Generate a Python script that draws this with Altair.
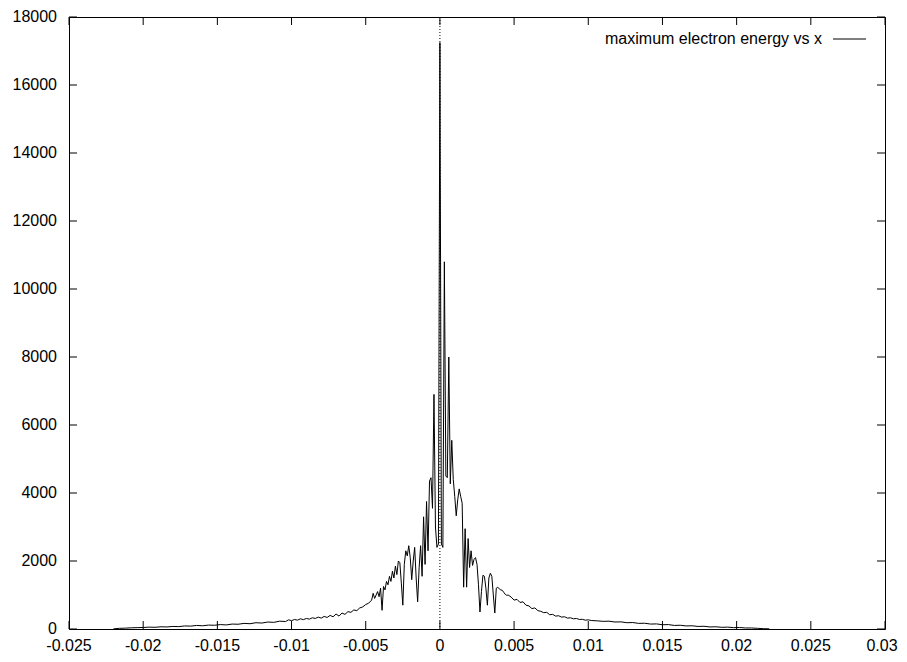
import altair as alt
import pandas as pd

# ---------------- data ----------------
X_LEFT_FAR = [-0.0220, -0.0216, -0.0212, -0.0208, -0.0204, -0.0200, -0.0196, -0.0192, -0.0188, -0.0184,
              -0.0180, -0.0176, -0.0172, -0.0168, -0.0164, -0.0160, -0.0156, -0.0152, -0.0148, -0.0144,
              -0.0140, -0.0136, -0.0132, -0.0128, -0.0124, -0.0120, -0.0116, -0.0112, -0.0108, -0.0104]
Y_LEFT_FAR = [5, 20, 25, 35, 40, 45, 55, 50, 65, 60,
              75, 70, 90, 85, 105, 95, 115, 110, 130, 120,
              145, 140, 165, 155, 185, 175, 205, 195, 230, 220]

X_LEFT_NEAR = [-0.0102, -0.0100, -0.0098, -0.0096, -0.0094, -0.0092, -0.0090, -0.0088, -0.0086, -0.0084,
               -0.0082, -0.0080, -0.0078, -0.0076, -0.0074, -0.0072, -0.0070, -0.0068, -0.0066, -0.0064,
               -0.0062, -0.0060, -0.0058, -0.0056, -0.0054, -0.0052, -0.0050, -0.0048, -0.0046]
Y_LEFT_NEAR = [270, 245, 280, 260, 300, 275, 310, 290, 330, 310,
               350, 320, 370, 340, 400, 360, 440, 380, 470, 430,
               510, 490, 560, 540, 620, 650, 720, 760, 850]

X_CENTER_LEFT = [-0.0045, -0.0044, -0.0043, -0.0042, -0.0041, -0.0040, -0.0039, -0.0038, -0.0037, -0.0036,
                 -0.0035, -0.0034, -0.0033, -0.0032, -0.0031, -0.0030, -0.0029, -0.0028, -0.0027, -0.0026,
                 -0.0025, -0.0024, -0.0023, -0.0022, -0.0021, -0.0020, -0.0019, -0.0018, -0.0017, -0.0016,
                 -0.0015, -0.0014, -0.0013, -0.0012, -0.0011, -0.0010, -0.0009, -0.0008, -0.0007, -0.0006,
                 -0.0005, -0.0004, -0.0003, -0.0002, -0.0001]
Y_CENTER_LEFT = [1050, 900, 1000, 1100, 950, 1200, 550, 1250, 1150, 1400,
                 1300, 1550, 1400, 1700, 1500, 1850, 1600, 2000, 1950, 1350,
                 700, 1900, 2300, 2150, 2450, 2100, 1450, 2000, 2400, 1500,
                 800, 1800, 2450, 1550, 3300, 1900, 3750, 2300, 4350, 4450,
                 3550, 6900, 3000, 2400, 2500]

X_CENTER_RIGHT = [0.0000, 0.0001, 0.0002, 0.0003, 0.0004, 0.0005, 0.0006, 0.0007, 0.0008, 0.0009,
                  0.0010, 0.0011, 0.0012, 0.0013, 0.0014, 0.0015, 0.0016, 0.0017, 0.0018, 0.0019,
                  0.0020, 0.0021, 0.0022, 0.0023, 0.0024, 0.0025, 0.0026, 0.0027, 0.0028, 0.0029,
                  0.0030, 0.0031, 0.0032, 0.0033, 0.0034, 0.0035, 0.0036, 0.0037, 0.0038, 0.0039,
                  0.0040, 0.0041, 0.0042, 0.0043, 0.0044, 0.0045]
Y_CENTER_RIGHT = [17250, 2500, 2400, 10800, 4500, 4450, 8000, 4270, 5550, 4400,
                  3900, 3330, 3800, 4120, 3900, 3700, 1230, 2950, 1230, 2660,
                  1810, 2300, 1870, 2050, 2100, 1900, 1300, 500, 1100, 1580,
                  1550, 1200, 700, 1500, 1640, 1550, 1000, 470, 1200, 1230,
                  1180, 1150, 1140, 1080, 1020, 990]

X_RIGHT_NEAR = [0.0046, 0.0048, 0.0050, 0.0052, 0.0054, 0.0056, 0.0058, 0.0060, 0.0062, 0.0064,
                0.0066, 0.0068, 0.0070, 0.0072, 0.0074, 0.0076, 0.0078, 0.0080, 0.0082, 0.0084,
                0.0086, 0.0088, 0.0090, 0.0092, 0.0094, 0.0096, 0.0098, 0.0100, 0.0102]
Y_RIGHT_NEAR = [1000, 940, 850, 870, 780, 800, 700, 680, 600, 620,
                540, 520, 480, 490, 420, 430, 380, 390, 350, 360,
                320, 330, 300, 310, 280, 285, 260, 270, 250]

X_RIGHT_FAR = [0.0106, 0.0110, 0.0114, 0.0118, 0.0122, 0.0126, 0.0130, 0.0134, 0.0138, 0.0142,
               0.0146, 0.0150, 0.0154, 0.0158, 0.0162, 0.0166, 0.0170, 0.0174, 0.0178, 0.0182,
               0.0186, 0.0190, 0.0194, 0.0198, 0.0202, 0.0206, 0.0210, 0.0214, 0.0218, 0.0222]
Y_RIGHT_FAR = [240, 225, 230, 205, 210, 185, 190, 165, 170, 145,
               150, 125, 130, 105, 110, 90, 95, 75, 80, 60,
               65, 50, 55, 40, 45, 30, 30, 20, 10, 5]

X_TICKS = [-0.025, -0.02, -0.015, -0.01, -0.005, 0, 0.005, 0.01, 0.015, 0.02, 0.025, 0.03]
X_TICK_LABELS = ["-0.025", "-0.02", "-0.015", "-0.01", "-0.005", "0",
                 "0.005", "0.01", "0.015", "0.02", "0.025", "0.03"]
Y_TICKS = [0, 2000, 4000, 6000, 8000, 10000, 12000, 14000, 16000, 18000]
Y_TICK_LABELS = ["0", "2000", "4000", "6000", "8000", "10000", "12000", "14000", "16000", "18000"]
LEGEND_LABEL = "maximum electron energy vs x"

# ---------------- chart ----------------
xs = X_LEFT_FAR + X_LEFT_NEAR + X_CENTER_LEFT + X_CENTER_RIGHT + X_RIGHT_NEAR + X_RIGHT_FAR
ys = Y_LEFT_FAR + Y_LEFT_NEAR + Y_CENTER_LEFT + Y_CENTER_RIGHT + Y_RIGHT_NEAR + Y_RIGHT_FAR
df = pd.DataFrame({"x": xs, "y": ys, "order": list(range(len(xs)))})

W, H = 816, 612
TICK = 8
FONT = "Liberation Sans, Arial, Helvetica, sans-serif"

xscale = alt.Scale(domain=[-0.025, 0.03], nice=False, zero=False)
yscale = alt.Scale(domain=[0, 18000], nice=False, zero=False)

line = alt.Chart(df).mark_line(color="black", strokeWidth=1).encode(
    x=alt.X("x:Q", scale=xscale, axis=None),
    y=alt.Y("y:Q", scale=yscale, axis=None),
    order="order:Q",
)

zero_line = alt.Chart(pd.DataFrame({"x": [0]})).mark_rule(
    color="black", strokeWidth=1, strokeDash=[1, 2]
).encode(x=alt.X("x:Q", scale=xscale, axis=None))

xt = pd.DataFrame({"x": X_TICKS, "label": X_TICK_LABELS})
yt = pd.DataFrame({"y": Y_TICKS, "label": Y_TICK_LABELS})

ticks_bottom = alt.Chart(xt).mark_rule(color="black", strokeWidth=1).encode(
    x=alt.X("x:Q", scale=xscale, axis=None), y=alt.value(H), y2=alt.value(H - TICK))
ticks_top = alt.Chart(xt).mark_rule(color="black", strokeWidth=1).encode(
    x=alt.X("x:Q", scale=xscale, axis=None), y=alt.value(0), y2=alt.value(TICK))
ticks_left = alt.Chart(yt).mark_rule(color="black", strokeWidth=1).encode(
    y=alt.Y("y:Q", scale=yscale, axis=None), x=alt.value(0), x2=alt.value(TICK))
ticks_right = alt.Chart(yt).mark_rule(color="black", strokeWidth=1).encode(
    y=alt.Y("y:Q", scale=yscale, axis=None), x=alt.value(W), x2=alt.value(W - TICK))

last_x = X_TICKS[-1]
x_labels = alt.Chart(xt).transform_filter(alt.datum.x < last_x).mark_text(
    align="center", baseline="middle", font=FONT, fontSize=16, color="black"
).encode(x=alt.X("x:Q", scale=xscale, axis=None), y=alt.value(H + 17), text="label:N")
x_label_last = alt.Chart(xt).transform_filter(alt.datum.x >= last_x).mark_text(
    align="center", baseline="middle", font=FONT, fontSize=16, color="black", dx=-3
).encode(x=alt.X("x:Q", scale=xscale, axis=None), y=alt.value(H + 17), text="label:N")
y_labels = alt.Chart(yt).mark_text(
    align="right", baseline="middle", font=FONT, fontSize=16, color="black"
).encode(y=alt.Y("y:Q", scale=yscale, axis=None), x=alt.value(-12), text="label:N")

legend_df = pd.DataFrame({"t": [LEGEND_LABEL]})
legend_text = alt.Chart(legend_df).mark_text(
    align="right", baseline="middle", font=FONT, fontSize=16, color="black"
).encode(x=alt.value(753), y=alt.value(22), text="t:N")
legend_line = alt.Chart(legend_df).mark_rule(color="black", strokeWidth=1).encode(
    x=alt.value(764), x2=alt.value(797), y=alt.value(22))

chart = alt.layer(
    line, zero_line, ticks_bottom, ticks_top, ticks_left, ticks_right,
    x_labels, x_label_last, y_labels, legend_text, legend_line
).properties(
    width=W, height=H,
    autosize=alt.AutoSizeParams(type="none"),
    padding={"left": 61, "top": 9, "right": 14, "bottom": 25},
    background="white",
).configure_view(stroke="black", strokeWidth=1)

chart.save("out.html", embed_options={"renderer": "svg", "actions": False})
